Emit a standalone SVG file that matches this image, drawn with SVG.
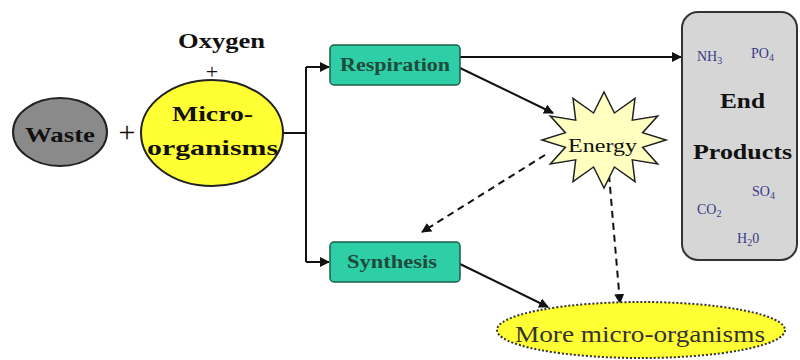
<svg xmlns="http://www.w3.org/2000/svg" width="800" height="360" viewBox="0 0 800 360">
<defs>
<marker id="ahb" viewBox="0 0 10 10" refX="9" refY="5" markerWidth="10" markerHeight="10" markerUnits="userSpaceOnUse" orient="auto">
<path d="M0,0 L10,5 L0,10 Z" fill="#111"/>
</marker>
</defs>
<rect width="800" height="360" fill="#fff"/>
<g id="connectors" fill="none" stroke="#111" stroke-width="2">
<path d="M283,133 H306"/>
<path d="M306,67 V262"/>
<path d="M306,67 H329" marker-end="url(#ahb)"/>
<path d="M306,262 H329" marker-end="url(#ahb)"/>
<path d="M460,57 H681" marker-end="url(#ahb)"/>
<path d="M460,68 L553,113" marker-end="url(#ahb)"/>
<path d="M545,155 L422,232" stroke-dasharray="7,5" marker-end="url(#ahb)"/>
<path d="M609,175 L620,303" stroke-dasharray="7,5" marker-end="url(#ahb)"/>
<path d="M460,264 L548,307" marker-end="url(#ahb)"/>
</g>
<g id="oxygen" font-family="Liberation Serif, serif" fill="#111">
<text x="178" y="48" font-size="21" font-weight="bold" textLength="87" lengthAdjust="spacingAndGlyphs">Oxygen</text>
<text x="212" y="79" font-size="22" text-anchor="middle">+</text>
</g>
<g id="waste">
<ellipse cx="60" cy="132" rx="47" ry="34" fill="#8a8a8a" stroke="#222" stroke-width="2"/>
<text x="25" y="142" font-family="Liberation Serif, serif" font-weight="bold" font-size="22" textLength="70" lengthAdjust="spacingAndGlyphs" fill="#111">Waste</text>
</g>
<g id="plus">
<text x="127" y="142" font-family="Liberation Serif, serif" font-size="30" text-anchor="middle" fill="#111">+</text>
</g>
<g id="microorganisms" font-family="Liberation Serif, serif" font-weight="bold" font-size="22" fill="#111">
<ellipse cx="212" cy="133" rx="71" ry="53" fill="#ffff33" stroke="#222" stroke-width="2"/>
<text x="172" y="121" textLength="81" lengthAdjust="spacingAndGlyphs">Micro-</text>
<text x="147" y="155" textLength="131" lengthAdjust="spacingAndGlyphs">organisms</text>
</g>
<g id="respiration">
<rect x="330" y="45" width="130" height="40" rx="4" fill="#2ecfa6" stroke="#1d5c4a" stroke-width="1.5"/>
<text x="340" y="71" font-family="Liberation Serif, serif" font-weight="bold" font-size="18" textLength="110" lengthAdjust="spacingAndGlyphs" fill="#1f4a3c">Respiration</text>
</g>
<g id="synthesis">
<rect x="330" y="242" width="130" height="40" rx="4" fill="#2ecfa6" stroke="#1d5c4a" stroke-width="1.5"/>
<text x="347" y="268" font-family="Liberation Serif, serif" font-weight="bold" font-size="18" textLength="90" lengthAdjust="spacingAndGlyphs" fill="#1f4a3c">Synthesis</text>
</g>
<g id="energy">
<polygon points="666,140 642.6,147.3 657.7,164 632.3,159.8 635,181.6 614.4,167 604,188 593.6,167 573,181.6 575.7,159.8 550.3,164 565.4,147.3 542,140 565.4,132.7 550.3,116 575.7,120.2 573,98.4 593.6,113 604,92 614.4,113 635,98.4 632.3,120.2 657.7,116 642.6,132.7" fill="#ffffc0" stroke="#222" stroke-width="1.5"/>
<text x="568" y="152" font-family="Liberation Serif, serif" font-size="19" textLength="69" lengthAdjust="spacingAndGlyphs" fill="#111">Energy</text>
</g>
<g id="endproducts" font-family="Liberation Serif, serif">
<rect x="682" y="12" width="115" height="248" rx="16" fill="#d6d6d6" stroke="#333" stroke-width="2"/>
<text x="697" y="61" font-size="14" fill="#3a3a88">NH<tspan font-size="10" dy="3">3</tspan></text>
<text x="751" y="58" font-size="14" fill="#3a3a88">PO<tspan font-size="10" dy="3">4</tspan></text>
<text x="720" y="108" font-size="21" font-weight="bold" fill="#111" textLength="45" lengthAdjust="spacingAndGlyphs">End</text>
<text x="693" y="159" font-size="21" font-weight="bold" fill="#111" textLength="99" lengthAdjust="spacingAndGlyphs">Products</text>
<text x="752" y="196" font-size="14" fill="#3a3a88">SO<tspan font-size="10" dy="3">4</tspan></text>
<text x="697" y="214" font-size="14" fill="#3a3a88">CO<tspan font-size="10" dy="3">2</tspan></text>
<text x="737" y="243" font-size="14" fill="#3a3a88">H<tspan font-size="10" dy="3">2</tspan><tspan dy="-3">0</tspan></text>
</g>
<g id="moremicro">
<ellipse cx="641" cy="330" rx="144" ry="28" fill="#ffff33" stroke="#333" stroke-width="2" stroke-dasharray="2,2"/>
<text x="515" y="342" font-family="Liberation Serif, serif" font-size="24" textLength="250" lengthAdjust="spacingAndGlyphs" fill="#333">More micro-organisms</text>
</g>
</svg>
